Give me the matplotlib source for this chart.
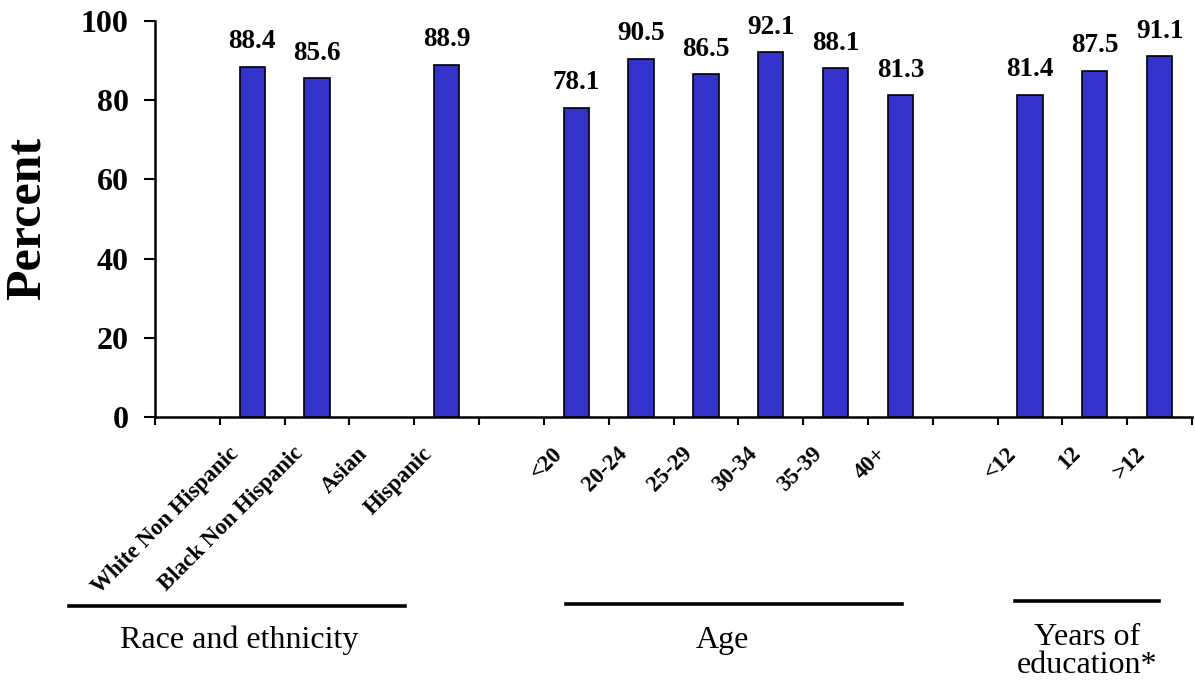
import matplotlib
matplotlib.use("Agg")
import matplotlib.pyplot as plt
from matplotlib.transforms import ScaledTranslation
from matplotlib.lines import Line2D

# ---- data ----
categories = ["", "White Non Hispanic", "Black Non Hispanic", "Asian", "Hispanic", "",
              "<20", "20-24", "25-29", "30-34", "35-39", "40+", "",
              "<12", "12", ">12"]
values = [None, 88.4, 85.6, None, 88.9, None,
          78.1, 90.5, 86.5, 92.1, 88.1, 81.3, None,
          81.4, 87.5, 91.1]
group_labels = ["Race and ethnicity", "Age", "Years of\neducation*"]
y_ticks = [0, 20, 40, 60, 80, 100]

plt.rcParams["font.family"] = ["Liberation Serif", "DejaVu Serif"]

W, H = 1195, 683
fig = plt.figure(figsize=(W / 100, H / 100), dpi=100)
ax = fig.add_axes([155 / W, 1 - 417 / H, (1192 - 155) / W, (417 - 21) / H])

xs = [i for i, v in enumerate(values) if v is not None]
vs = [v for v in values if v is not None]
bars = ax.bar(xs, vs, width=0.39, color="#3333CC", edgecolor="black",
              linewidth=1.2, zorder=3)
for x, v in zip(xs, vs):
    ax.annotate(f"{v:.1f}", (x, v), xytext=(0, 9), textcoords="offset points",
                ha="center", va="bottom", fontsize=19.5, fontweight="bold")

n = len(categories)
ax.set_xlim(-0.5, n - 0.5)
ax.set_ylim(0, 100)
ax.set_yticks(y_ticks)
ax.set_yticklabels([str(t) for t in y_ticks], fontsize=23, fontweight="bold")
ax.tick_params(axis="y", length=8, width=1.5, pad=11, direction="out")

# boundary ticks (major), labels at centers (minor)
ax.set_xticks([i - 0.5 for i in range(n + 1)])
ax.set_xticklabels([])
ax.tick_params(axis="x", which="major", length=6, width=1.5, direction="out")
ax.set_xticks(list(range(n)), minor=True)
ax.set_xticklabels(categories, minor=True, rotation=45, ha="right", va="center",
                   rotation_mode="anchor", fontsize=16.5, fontweight="bold")
ax.tick_params(axis="x", which="minor", length=0, pad=24)
shift = ScaledTranslation(-0.17, 0, fig.dpi_scale_trans)
for lab in ax.get_xticklabels(minor=True):
    lab.set_transform(lab.get_transform() + shift)

for s in ["top", "right"]:
    ax.spines[s].set_visible(False)
for s in ["left", "bottom"]:
    ax.spines[s].set_linewidth(1.8)

fig.text(28 / W, 1 - 218 / H, "Percent", rotation=90, ha="center", va="center",
         fontsize=36, fontweight="bold")

# group brackets and labels
lines = [((69, 405), 606), ((566, 902), 604), ((1015, 1159), 601)]
for (x0, x1), y in lines:
    fig.add_artist(Line2D([x0 / W, x1 / W], [1 - y / H, 1 - y / H],
                          transform=fig.transFigure, color="black", lw=2.6))
fig.text(239 / W, 1 - 648 / H, group_labels[0], ha="center", va="baseline", fontsize=23)
fig.text(722 / W, 1 - 648 / H, group_labels[1], ha="center", va="baseline", fontsize=23)
fig.text(1087 / W, 1 - 673 / H, group_labels[2], ha="center", va="baseline",
         fontsize=23, linespacing=0.95, multialignment="center")

fig.savefig("out.png", dpi=100)
